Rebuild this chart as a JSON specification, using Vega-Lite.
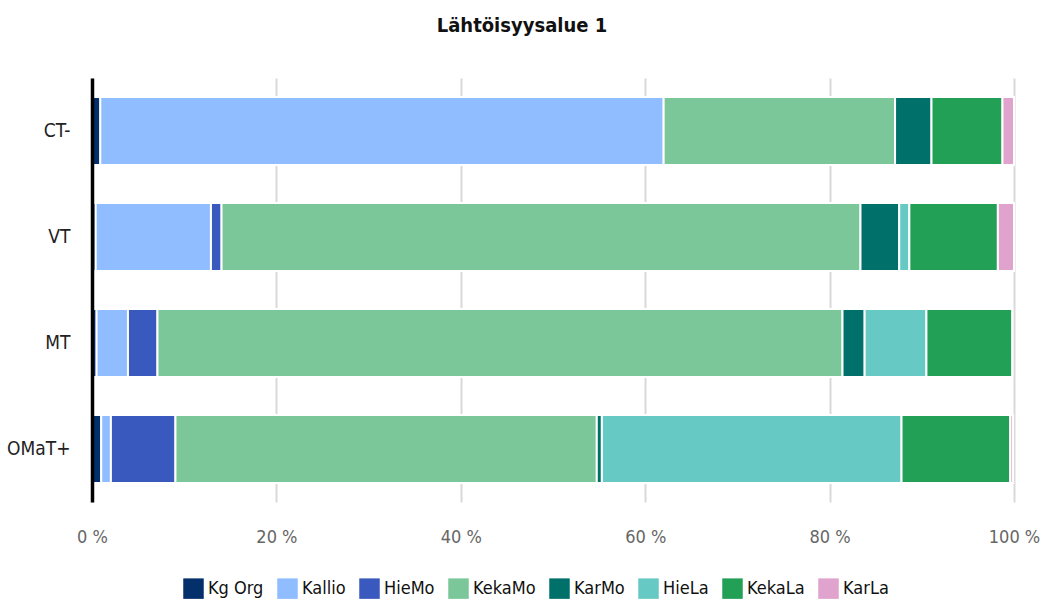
{
  "$schema": "https://vega.github.io/schema/vega-lite/v6.json",
  "width": 922,
  "height": 424,
  "autosize": {"type": "none"},
  "padding": {"left": 92, "top": 78, "right": 29, "bottom": 103},
  "background": "white",
  "config": {
    "font": "DejaVu Sans Condensed, Roboto, sans-serif",
    "view": {"stroke": null}
  },
  "title": {
    "text": "Lähtöisyysalue 1",
    "font": "DejaVu Sans Condensed, Roboto, sans-serif",
    "fontSize": 20,
    "fontWeight": "bold",
    "color": "#111",
    "anchor": "middle",
    "dx": -31,
    "offset": 42
  },
  "data": {
    "values": [
      {"luokka": "CT-", "laji": "Kg Org", "o": 1, "p": 0.9},
      {"luokka": "CT-", "laji": "Kallio", "o": 2, "p": 61.1},
      {"luokka": "CT-", "laji": "KekaMo", "o": 4, "p": 25.1},
      {"luokka": "CT-", "laji": "KarMo", "o": 5, "p": 3.95},
      {"luokka": "CT-", "laji": "KekaLa", "o": 7, "p": 7.7},
      {"luokka": "CT-", "laji": "KarLa", "o": 8, "p": 1.25},
      {"luokka": "VT", "laji": "Kg Org", "o": 1, "p": 0.4},
      {"luokka": "VT", "laji": "Kallio", "o": 2, "p": 12.5},
      {"luokka": "VT", "laji": "HieMo", "o": 3, "p": 1.15},
      {"luokka": "VT", "laji": "KekaMo", "o": 4, "p": 69.3},
      {"luokka": "VT", "laji": "KarMo", "o": 5, "p": 4.2},
      {"luokka": "VT", "laji": "HieLa", "o": 6, "p": 1.1},
      {"luokka": "VT", "laji": "KekaLa", "o": 7, "p": 9.6},
      {"luokka": "VT", "laji": "KarLa", "o": 8, "p": 1.75},
      {"luokka": "MT", "laji": "Kg Org", "o": 1, "p": 0.5},
      {"luokka": "MT", "laji": "Kallio", "o": 2, "p": 3.4},
      {"luokka": "MT", "laji": "HieMo", "o": 3, "p": 3.2},
      {"luokka": "MT", "laji": "KekaMo", "o": 4, "p": 74.3},
      {"luokka": "MT", "laji": "KarMo", "o": 5, "p": 2.4},
      {"luokka": "MT", "laji": "HieLa", "o": 6, "p": 6.7},
      {"luokka": "MT", "laji": "KekaLa", "o": 7, "p": 9.3},
      {"luokka": "OMaT+", "laji": "Kg Org", "o": 1, "p": 1.0},
      {"luokka": "OMaT+", "laji": "Kallio", "o": 2, "p": 1.05},
      {"luokka": "OMaT+", "laji": "HieMo", "o": 3, "p": 7.0},
      {"luokka": "OMaT+", "laji": "KekaMo", "o": 4, "p": 45.7},
      {"luokka": "OMaT+", "laji": "KarMo", "o": 5, "p": 0.55},
      {"luokka": "OMaT+", "laji": "HieLa", "o": 6, "p": 32.5},
      {"luokka": "OMaT+", "laji": "KekaLa", "o": 7, "p": 11.8},
      {"luokka": "OMaT+", "laji": "KarLa", "o": 8, "p": 0.3}
    ]
  },
  "layer": [
    {
      "mark": {"type": "bar", "stroke": "white", "strokeWidth": 2},
      "encoding": {
        "y": {
          "field": "luokka",
          "type": "nominal",
          "sort": ["CT-", "VT", "MT", "OMaT+"],
          "scale": {"paddingInner": 0.36, "paddingOuter": 0.18},
          "axis": {
            "title": null,
            "ticks": false,
            "domain": true,
            "domainColor": "#000",
            "domainWidth": 3.5,
            "zindex": 1,
            "labelFontSize": 19,
            "labelColor": "#222",
            "labelPadding": 22
          }
        },
        "x": {
          "field": "p",
          "type": "quantitative",
          "stack": "zero",
          "scale": {"domain": [0, 100], "nice": false},
          "axis": {
            "title": null,
            "values": [0, 20, 40, 60, 80, 100],
            "labelExpr": "datum.value + ' %'",
            "labelFlush": false,
            "ticks": false,
            "domain": false,
            "grid": true,
            "gridColor": "#d9d9d9",
            "gridWidth": 2,
            "labelFontSize": 18,
            "labelColor": "#666",
            "labelPadding": 26
          }
        },
        "order": {"field": "o", "type": "quantitative"},
        "color": {
          "field": "laji",
          "type": "nominal",
          "scale": {
            "domain": ["Kg Org", "Kallio", "HieMo", "KekaMo", "KarMo", "HieLa", "KekaLa", "KarLa"],
            "range": ["#03306b", "#8fbdff", "#3959bf", "#7cc799", "#00706b", "#67c9c4", "#22a056", "#e0a3cd"]
          },
          "legend": {
            "title": null,
            "orient": "none",
            "legendX": 91,
            "legendY": 500,
            "direction": "horizontal",
            "symbolType": "square",
            "symbolSize": 420,
            "symbolStrokeWidth": 0,
            "labelFontSize": 18,
            "labelColor": "#111",
            "labelOffset": 4,
            "columnPadding": 13
          }
        }
      }
    }
  ]
}
